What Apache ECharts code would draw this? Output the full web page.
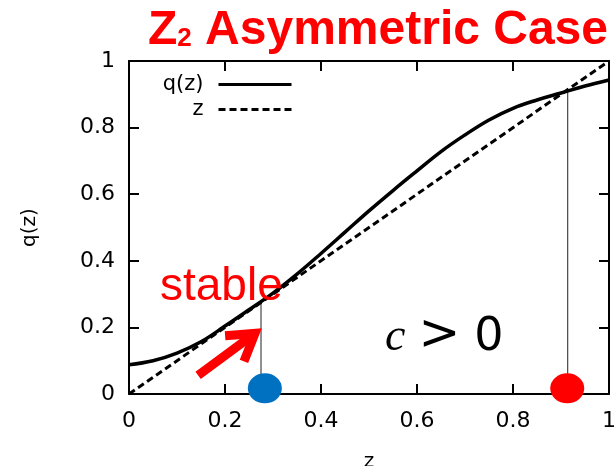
<!DOCTYPE html>
<html>
<head>
<meta charset="utf-8">
<script src="https://cdn.jsdelivr.net/npm/echarts@6/dist/echarts.min.js"></script>
<style>html,body{margin:0;padding:0;background:#fff}#c{width:615px;height:466px}</style>
</head>
<body>
<div id="c"></div>
<script>
// ---- data ----
var zGrid = [0, 0.05, 0.1, 0.15, 0.2, 0.25, 0.3, 0.35, 0.4, 0.45, 0.5, 0.55, 0.6, 0.65, 0.7, 0.75, 0.8, 0.85, 0.9, 0.95, 1.0];
var qValues = [0.088, 0.100, 0.123, 0.157, 0.204, 0.253, 0.303, 0.360, 0.422, 0.486, 0.550, 0.611, 0.670, 0.728, 0.778, 0.823, 0.858, 0.883, 0.904, 0.925, 0.943];
var diagZ = [0, 1];
var stablePoint = [0.275, 0.272];
var unstablePoint = [0.914, 0.913];
var stableMarker = [0.283, 0.017];
var unstableMarker = [0.913, 0.017];
var arrowFrom = [0.144, 0.056];
var arrowTo = [0.2625, 0.182];

var qData = zGrid.map(function (z, i) { return [z, qValues[i]]; });
var diagData = diagZ.map(function (z) { return [z, z]; });

var fontTick = 'DejaVu Sans';
var chart = echarts.init(document.getElementById('c'), null, {renderer: 'canvas'});

function axisBase(extra) {
  return Object.assign({
    type: 'value', min: 0, max: 1, interval: 0.2,
    axisLine: {show: true, onZero: false, lineStyle: {color: '#000', width: 2}},
    axisTick: {show: true, inside: true, length: 10, lineStyle: {color: '#000', width: 2}},
    splitLine: {show: false}
  }, extra);
}

function legendCfg(name, top) {
  return {data: [name], orient: 'vertical', align: 'right', right: 322, top: top,
    itemWidth: 73, itemHeight: 14, padding: 0,
    itemStyle: {color: 'rgba(0,0,0,0)', borderWidth: 0, opacity: 0},
    lineStyle: {width: 3},
    textStyle: {fontFamily: fontTick, fontSize: 21, color: '#000', padding: [0, 10, 0, 0]}};
}

var option = {
  animation: false,
  backgroundColor: '#fff',
  title: {
    left: 148, top: 7, padding: 0,
    text: '{a|Z}{b|2}{a| Asymmetric Case}',
    textStyle: {
      rich: {
        a: {fontFamily: 'Liberation Sans', fontWeight: 'bold', fontSize: 48, lineHeight: 48, color: '#ff0000', verticalAlign: 'bottom'},
        b: {fontFamily: 'Liberation Sans', fontWeight: 'bold', fontSize: 26, lineHeight: 42, color: '#ff0000', verticalAlign: 'bottom', padding: [0, 0, 3, 0]}
      }
    }
  },
  legend: [legendCfg('q(z)', 74), legendCfg('z', 99)],
  grid: {left: 129, right: 6, top: 61, bottom: 72, containLabel: false, outerBoundsMode: 'none'},
  xAxis: [
    axisBase({position: 'bottom', name: 'z', nameLocation: 'middle', nameGap: 58,
      nameTextStyle: {fontFamily: fontTick, fontSize: 20, color: '#000'},
      axisLabel: {show: true, margin: 16, color: '#000', fontFamily: fontTick, fontSize: 22,
        formatter: function (v) { return String(+v.toFixed(1)); }}}),
    axisBase({position: 'top', axisLabel: {show: false}})
  ],
  yAxis: [
    axisBase({position: 'left', name: 'q(z)', nameLocation: 'middle', nameGap: 89, nameRotate: 90,
      nameTextStyle: {fontFamily: fontTick, fontSize: 20, color: '#000'},
      axisLabel: {show: true, margin: 14, color: '#000', fontFamily: fontTick, fontSize: 22,
        formatter: function (v) { return String(+v.toFixed(1)); }}}),
    axisBase({position: 'right', axisLabel: {show: false}})
  ],
  graphic: [
    {type: 'text', left: 160, top: 264, z: 100,
     style: {text: 'stable', fill: '#ff0000', font: '46px "Liberation Sans"'}},
    {type: 'text', left: 385, top: 311, z: 100,
     style: {text: '{c|c}{g|>}{n|0}', rich: {
        c: {fontFamily: 'Liberation Serif', fontStyle: 'italic', fontSize: 46, fill: '#000', lineHeight: 50, verticalAlign: 'bottom'},
        g: {fontFamily: 'DejaVu Sans', fontSize: 50, fill: '#000', padding: [0, 0, 0, 13], lineHeight: 50, verticalAlign: 'bottom'},
        n: {fontFamily: 'DejaVu Sans', fontSize: 46, fill: '#000', padding: [0, 0, 0, 14], lineHeight: 50, verticalAlign: 'bottom'}
     }}}
  ],
  series: [
    {name: 'z', type: 'line', data: diagData, symbol: 'none', xAxisIndex: 0, yAxisIndex: 0,
     lineStyle: {color: '#000', width: 3, type: [7, 4]}, z: 2},
    {name: 'q(z)', type: 'line', data: qData, symbol: 'none', smooth: 0.4, xAxisIndex: 0, yAxisIndex: 0,
     lineStyle: {color: '#000', width: 3.5}, z: 3},
    {name: 'stableLine', type: 'line', data: [[stablePoint[0], 0], stablePoint], symbol: 'none',
     lineStyle: {color: '#222', width: 1}, z: 1},
    {name: 'unstableLine', type: 'line', data: [[unstablePoint[0], 0], unstablePoint], symbol: 'none',
     lineStyle: {color: '#222', width: 1}, z: 1},
    {name: 'stablePt', type: 'scatter', data: [stableMarker], symbol: 'circle', symbolSize: [34, 30],
     clip: false, itemStyle: {color: '#0070c0', opacity: 1}, z: 10},
    {name: 'unstablePt', type: 'scatter', data: [unstableMarker], symbol: 'circle', symbolSize: [34, 30],
     clip: false, itemStyle: {color: '#ff0000', opacity: 1}, z: 10},
    {name: 'arrow', type: 'custom', clip: false, z: 20,
     data: [[arrowFrom[0], arrowFrom[1], arrowTo[0], arrowTo[1]]],
     encode: {x: [0, 2], y: [1, 3]},
     renderItem: function (params, api) {
       var a = api.coord([api.value(0), api.value(1)]);
       var b = api.coord([api.value(2), api.value(3)]);
       var ang = Math.atan2(a[1] - b[1], a[0] - b[0]);
       var L = 30, spread = 32 * Math.PI / 180;
       var p1 = [b[0] + L * Math.cos(ang + spread), b[1] + L * Math.sin(ang + spread)];
       var p2 = [b[0] + L * Math.cos(ang - spread), b[1] + L * Math.sin(ang - spread)];
       var st = {stroke: '#ff0000', lineWidth: 9, fill: null, lineJoin: 'miter', lineCap: 'butt'};
       return {type: 'group', children: [
         {type: 'line', shape: {x1: a[0], y1: a[1], x2: b[0], y2: b[1]}, style: st},
         {type: 'polyline', shape: {points: [p1, b, p2]}, style: st}
       ]};
     }}
  ]
};
chart.setOption(option);
</script>
</body>
</html>
